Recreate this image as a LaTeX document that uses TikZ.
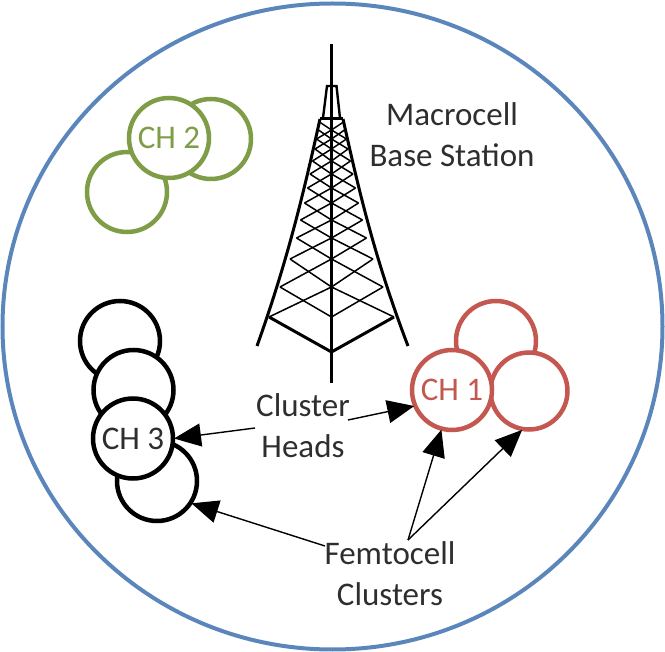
\documentclass[tikz,border=0pt]{standalone}
\usepackage{fontspec}
\setmainfont{Carlito}
\usetikzlibrary{arrows.meta}
\definecolor{ringblue}{HTML}{5B86BC}
\definecolor{cgreen}{HTML}{7F9C47}
\definecolor{cred}{HTML}{C4574F}
\definecolor{txt}{HTML}{2E2E2E}
\tikzset{
  x=1pt,y=-1pt,
  cell/.style={circle,draw=#1,fill=white,line width=4.5pt,minimum size=80pt,inner sep=0pt,outer sep=1pt},
  lbl/.style={text=txt,font=\fontsize{33}{41}\selectfont,align=center,inner sep=0pt},
  chl/.style={font=\fontsize{33}{36}\selectfont},
  ptr/.style={line width=1.4pt,draw=black,-{Triangle[length=27pt,width=23pt]},shorten >=0pt},
  leg/.style={line width=3pt,black,line cap=butt},
  lat/.style={line width=1.5pt,black},
}
\begin{document}
\begin{tikzpicture}
\useasboundingbox (0,0) rectangle (665,652);
\draw[ringblue,line width=4pt] (332.5,326.5) ellipse [x radius=330,y radius=323];

% tower
\def\cx{331.5}
\foreach \i/\ya/\da in {0/317/62.5,1/287/51.5,2/259/41.5,3/238/35,4/220/31,5/203/27,6/188/24,7/174/21.5,8/161/19,9/149/16.5,10/139/15,11/130/13,12/122/12}{
  \coordinate (L\i) at (\cx-\da,\ya);
  \coordinate (R\i) at (\cx+\da,\ya);
  \coordinate (C\i) at (\cx,\ya);
}
\foreach \i/\j/\k in {0/1/2,1/2/3,2/3/4,3/4/5,4/5/6,5/6/7,6/7/8,7/8/9,8/9/10,9/10/11,10/11/12}{
  \draw[lat] (L\i) -- (C\j) -- (R\k);
  \draw[lat] (R\i) -- (C\j) -- (L\k);
}
\draw[lat] (L1) -- (C0) -- (R1);
\draw[leg] (320,119) .. controls (303,196) and (287,262) .. (257,346);
\draw[leg] (343,119) .. controls (360,196) and (376,262) .. (408,346);
\draw[leg] (320,119) -- (343,119);
\draw[line width=2.4pt] (323,118) -- (327,86) -- (336.5,86) -- (340,118);
\draw[line width=3pt] (\cx,44) -- (\cx,352);
\draw[line width=3.6pt] (\cx,352) -- (\cx,383);
\draw[leg] (L0) -- (\cx,352) -- (R0);

% green cluster
\node[cell=cgreen] (g2) at (211,139) {};
\node[cell=cgreen] (g3) at (127,192) {};
\node[cell=cgreen,text=cgreen,chl] (ch2) at (169,138) {CH 2};
% black cluster
\node[cell=black] (b1) at (120,341) {};
\node[cell=black] (b2) at (133.5,390) {};
\node[cell=black] (b4) at (157,481) {};
\node[cell=black,text=txt,chl] (ch3) at (133,438.5) {CH 3};
% red cluster
\node[cell=cred] (r2) at (496,341) {};
\node[cell=cred,minimum size=77pt] (r3) at (529,391) {};
\node[cell=cred,text=cred,chl] (ch1) at (452,390) {CH 1};

% labels
\node[lbl] (mbs) at (452,135) {Macrocell\\Base Station};
\node[lbl] (heads) at (303,426) {Cluster\\Heads};
\node[lbl] (femto) at (390,574) {Femtocell\\Clusters};

% connectors
\coordinate (hl) at (255,428);
\coordinate (hr) at (348,420);
\coordinate (fl) at (325,546);
\coordinate (fr) at (408,540);
\draw[ptr] (hl) -- (ch3.east);
\draw[ptr] (hr) -- (ch1.203);
\draw[ptr] (fl) -- (b4.-33);
\draw[ptr] (fr) -- (ch1.-105);
\draw[ptr] (fr) -- (r3.-100);
\end{tikzpicture}
\end{document}
